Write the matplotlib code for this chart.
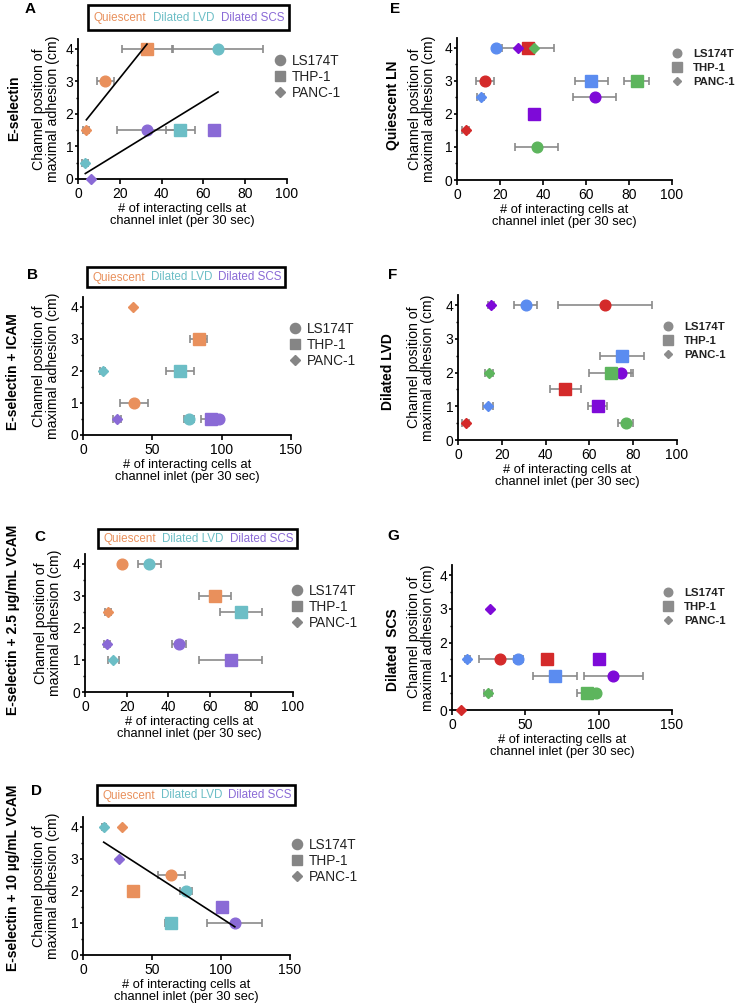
import numpy as np
import matplotlib
matplotlib.use('Agg')
import matplotlib.pyplot as plt
from matplotlib.lines import Line2D
from matplotlib.patches import Rectangle
from matplotlib.ticker import MultipleLocator

plt.rcParams['font.family'] = ['Liberation Sans', 'DejaVu Sans']

W, H = 736, 1006

# ── data ──────────────────────────────────────────────────────────
cells = ['LS174T', 'THP-1', 'PANC-1']
states = ['Quiescent', 'Dilated LVD', 'Dilated SCS']
conditions = ['E-selectin', 'E-selectin + ICAM',
              'E-selectin + 2.5 µg/mL VCAM', 'E-selectin + 10 µg/mL VCAM']
right_titles = ['Quiescent LN', 'Dilated LVD', 'Dilated  SCS']

# rows = state (Quiescent, LVD, SCS), cols = cell (LS174T, THP-1, PANC-1)
esel_x = [[13, 33, 4], [67, 49, 3.5], [33, 65, 6]]
esel_err = [[4, 12, 1.5], [21.5, 7, 1.5], [14.5, 0, 0]]
esel_y = [[3, 4, 1.5], [4, 1.5, 0.5], [1.5, 1.5, 0]]

icam_x = [[37, 83.5, 36], [76.5, 70, 14.2], [98, 92, 24.5]]
icam_err = [[10, 6, 0], [3.5, 10, 2], [3, 7, 3]]
icam_y = [[1, 3, 4], [0.5, 2, 2], [0.5, 0.5, 0.5]]

vcam25_x = [[18, 62.5, 11], [31, 75, 13.7], [45.3, 70, 10.5]]
vcam25_err = [[0, 7.5, 1.5], [5.3, 10, 2.5], [3.3, 15, 1.5]]
vcam25_y = [[4, 3, 2.5], [4, 2.5, 1], [1.5, 1, 1.5]]

vcam10_x = [[64, 36, 28.5], [74.5, 63.7, 15], [110, 100.5, 26.2]]
vcam10_err = [[10, 0, 0], [4.5, 4.5, 1.5], [20, 0, 0]]
vcam10_y = [[2.5, 2, 4], [2, 1, 4], [1, 1.5, 3]]

all_x = [esel_x, icam_x, vcam25_x, vcam10_x]
all_err = [esel_err, icam_err, vcam25_err, vcam10_err]
all_y = [esel_y, icam_y, vcam25_y, vcam10_y]

# which states are pooled for a linear fit in each left panel
fit_groups = [[[0], [1, 2]], [], [], [[0, 1, 2]]]
xmax_left = [100, 150, 100, 150]
xmax_right = [100, 100, 150]

# ── styles ────────────────────────────────────────────────────────
state_colors = ['#E9905C', '#6CBEC6', '#8A6AD6']
cond_colors = ['#D42A2A', '#5DB55D', '#5B8CF0', '#7E0AD8']  # E-sel, ICAM, 2.5 VCAM, 10 VCAM
markers = ['o', 's', 'D']
msizes = [7.7, 8.2, 5.3]
errc = '#8a8a8a'
ylab = "Channel position of\nmaximal adhesion (cm)"
xlab = "# of interacting cells at\nchannel inlet (per 30 sec)"

# axes rectangles in pixels: x0, x1, y_bottom, y_top
left_rects = [(78, 287, 179, 39), (83, 291, 435, 297), (85, 293, 692, 554), (83, 290, 955, 817)]
right_rects = [(457, 672, 180, 38), (458, 677, 440, 295), (452, 672, 710, 565)]
left_boxes = [(88, 289, 5, 30), (87, 285, 267, 287), (98, 297, 529, 548), (97, 295, 785, 805)]
left_leg = [(280, 77), (295, 345), (297, 607), (297, 861)]
right_leg = [(677, 68), (668, 341), (668, 607)]
left_letters = [('A', 30, 9), ('B', 33, 275), ('C', 40, 537), ('D', 36, 791)]
right_letters = [('E', 395, 9), ('F', 393, 275), ('G', 393, 536)]
left_cond_pos = [(14, 108), (13, 372), (13, 620), (13, 878)]
right_cond_pos = [(393, 105), (388, 372), (393, 650)]
left_ylab_x = [46, 46, 48, 46]
right_ylab_x = [422, 421, 421]


def rect(r):
    x0, x1, yb, yt = r
    return [x0 / W, 1 - yb / H, (x1 - x0) / W, (yb - yt) / H]


def style_axes(ax, xmax):
    ax.set_xlim(0, xmax)
    ax.set_ylim(0, 4.3)
    ax.set_yticks([0, 1, 2, 3, 4])
    ax.yaxis.set_minor_locator(MultipleLocator(0.5))
    ax.set_xticks(np.arange(0, xmax + 1, 20 if xmax == 100 else 50))
    for s in ['top', 'right']:
        ax.spines[s].set_visible(False)
    for s in ['left', 'bottom']:
        ax.spines[s].set_linewidth(1.3)
    ax.tick_params(axis='x', length=3.5, width=1.2, pad=2, labelsize=10)
    ax.tick_params(axis='y', which='major', length=2.5, width=1.2, pad=1, labelsize=10)
    ax.tick_params(axis='y', which='minor', length=1.8, width=1.0)
    ax.set_xlabel(xlab, fontsize=9.3, labelpad=2, linespacing=1.0)
    ax.patch.set_alpha(0)


def draw_points(ax, xs, errs, ys, colors):
    for (x, e, y) in zip(xs, errs, ys):
        for k in range(3):
            if e[k] > 0:
                ax.errorbar(x[k], y[k], xerr=e[k], fmt='none', ecolor=errc,
                            elinewidth=1.2, capsize=3, capthick=1.2, zorder=2, clip_on=False)
    for k in range(3):
        for (x, y, c) in zip(xs, ys, colors):
            ax.plot(x[k], y[k], marker=markers[k], ms=msizes[k], color=c,
                    mec=c, ls='none', zorder=3 + k, clip_on=False)


fig = plt.figure(figsize=(W / 100, H / 100), dpi=100)

# ── left column: one panel per coating, coloured by vessel state ─
for i in range(4):
    ax = fig.add_axes(rect(left_rects[i]))
    style_axes(ax, xmax_left[i])
    draw_points(ax, all_x[i], all_err[i], all_y[i], state_colors)
    for grp in fit_groups[i]:
        gx = np.concatenate([np.array(all_x[i][s], float) for s in grp])
        gy = np.concatenate([np.array(all_y[i][s], float) for s in grp])
        m, b = np.polyfit(gx, gy, 1)
        xx = np.array([gx.min(), gx.max()])
        ax.plot(xx, m * xx + b, color='black', lw=1.2, zorder=6)

    x0, x1, yt, yb = left_boxes[i]
    fig.add_artist(Rectangle((x0 / W, 1 - yb / H), (x1 - x0) / W, (yb - yt) / H,
                             transform=fig.transFigure, fill=False, ec='black', lw=1.9))
    for f, st, c in zip([0.16, 0.478, 0.822], states, state_colors):
        fig.text((x0 + f * (x1 - x0)) / W, 1 - ((yt + yb) / 2 + 0.5) / H, st, color=c,
                 fontsize=8.4, ha='center', va='center')

    handles = [Line2D([], [], marker=m, ls='none', color='#858585', ms=ms * 0.95)
               for m, ms in zip(markers, msizes)]
    lx, ly = left_leg[i]
    fig.legend(handles, cells, loc='center left', bbox_to_anchor=(lx / W - 0.009, 1 - ly / H),
               frameon=False, fontsize=9.8, handlelength=1, handletextpad=0.35,
               labelspacing=0.15, borderpad=0, borderaxespad=0, labelcolor='#222222')

    t, px, py = left_letters[i]
    fig.text(px / W, 1 - py / H, t, fontsize=11, fontweight='bold', ha='center', va='center')
    cx, cy = left_cond_pos[i]
    fig.text(cx / W, 1 - cy / H, conditions[i], fontsize=10, fontweight='bold',
             rotation=90, ha='center', va='center')
    yc = (left_rects[i][2] + left_rects[i][3]) / 2
    fig.text(left_ylab_x[i] / W, 1 - yc / H, ylab,
             fontsize=10.2, rotation=90, ha='center', va='center', linespacing=1.0)

# ── right column: one panel per vessel state, coloured by coating ─
for j in range(3):
    ax = fig.add_axes(rect(right_rects[j]))
    style_axes(ax, xmax_right[j])
    xs = [all_x[i][j] for i in range(4)]
    es = [all_err[i][j] for i in range(4)]
    ys = [all_y[i][j] for i in range(4)]
    draw_points(ax, xs, es, ys, cond_colors)

    handles = [Line2D([], [], marker=m, ls='none', color='#8c8c8c', ms=ms * 0.8)
               for m, ms in zip(markers, msizes)]
    lx, ly = right_leg[j]
    fig.legend(handles, cells, loc='center left', bbox_to_anchor=(lx / W - 0.008, 1 - ly / H),
               frameon=False, handlelength=1, handletextpad=0.9,
               labelspacing=0.35, borderpad=0, borderaxespad=0,
               prop={'weight': 'bold', 'size': 8.2}, labelcolor='#222222')

    t, px, py = right_letters[j]
    fig.text(px / W, 1 - py / H, t, fontsize=11, fontweight='bold', ha='center', va='center')
    cx, cy = right_cond_pos[j]
    fig.text(cx / W, 1 - cy / H, right_titles[j], fontsize=10, fontweight='bold',
             rotation=90, ha='center', va='center')
    yc = (right_rects[j][2] + right_rects[j][3]) / 2
    fig.text(right_ylab_x[j] / W, 1 - yc / H, ylab,
             fontsize=10.2, rotation=90, ha='center', va='center', linespacing=1.0)

fig.savefig("out.png", dpi=100)
